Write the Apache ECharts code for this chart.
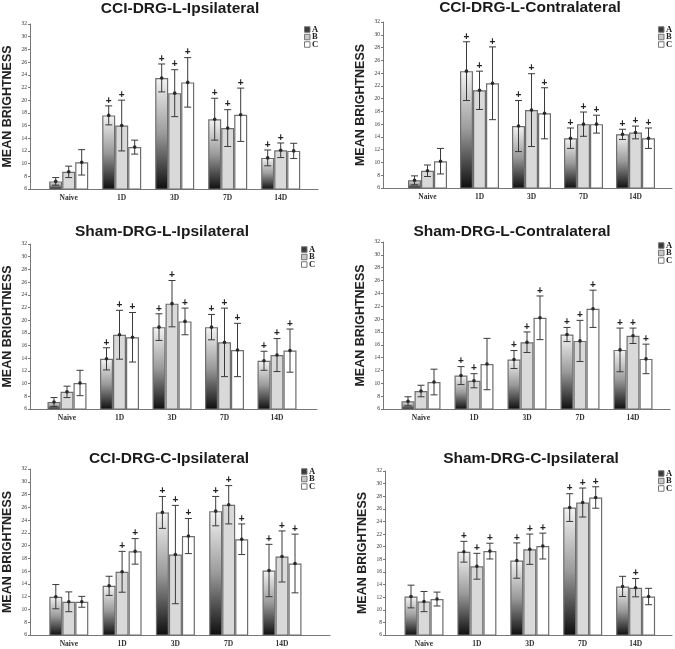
<!DOCTYPE html>
<html><head><meta charset="utf-8">
<script src="https://cdn.jsdelivr.net/npm/echarts@6/dist/echarts.min.js"></script>
<style>html,body{margin:0;padding:0;background:#fff}#c{width:675px;height:649px}</style>
</head><body><div id="c"></div>
<script>
const categories = ['Naive', '1D', '3D', '7D', '14D'];
const seriesNames = ['A', 'B', 'C'];
const yMin = 6, yMax = 32, yStep = 2;
const panelTitles = ['CCI-DRG-L-Ipsilateral', 'CCI-DRG-L-Contralateral', 'Sham-DRG-L-Ipsilateral',
  'Sham-DRG-L-Contralateral', 'CCI-DRG-C-Ipsilateral', 'Sham-DRG-C-Ipsilateral'];
const yName = 'MEAN BRIGHTNESS';

// means / errors / significance (+) per panel, rows = A, B, C
const meanCciLIpsi = [[7.2, 17.6, 23.5, 17.0, 10.9], [8.7, 16.0, 21.1, 15.6, 12.1], [10.2, 12.6, 22.8, 17.7, 12.0]];
const errCciLIpsi = [[0.6, 1.5, 2.2, 3.3, 1.25], [0.9, 4.0, 3.7, 2.9, 1.15], [2.0, 1.1, 3.9, 4.2, 1.2]];
const plusCciLIpsi = [[0, 1, 1, 1, 1], [0, 1, 1, 1, 1], [0, 0, 1, 1, 0]];

const meanCciLContra = [[7.2, 24.3, 15.7, 13.8, 14.4], [8.7, 21.3, 18.2, 16.0, 14.7], [10.2, 22.4, 17.7, 16.0, 13.8]];
const errCciLContra = [[0.7, 4.6, 4.0, 1.6, 0.8], [0.9, 3.0, 5.7, 1.9, 1.0], [2.0, 5.7, 4.0, 1.4, 1.6]];
const plusCciLContra = [[0, 1, 1, 1, 1], [0, 1, 1, 1, 1], [0, 1, 1, 1, 1]];

const meanShamLIpsi = [[7.1, 13.9, 18.9, 18.9, 13.6], [8.7, 17.7, 22.6, 16.5, 14.5], [10.1, 17.3, 19.8, 15.3, 15.2]];
const errShamLIpsi = [[0.7, 1.75, 2.1, 2.0, 1.5], [0.9, 3.85, 3.65, 5.4, 2.6], [2.0, 3.9, 2.1, 4.2, 3.4]];
const plusShamLIpsi = [[0, 1, 1, 1, 1], [0, 1, 1, 1, 1], [0, 1, 1, 1, 1]];

const meanShamLContra = [[7.2, 11.2, 13.7, 17.6, 15.2], [8.8, 10.4, 16.4, 16.6, 17.4], [10.2, 13.0, 20.2, 21.6, 13.8]];
const errShamLContra = [[0.7, 1.4, 1.4, 1.1, 3.4], [0.9, 1.1, 1.6, 3.2, 1.2], [2.0, 4.0, 3.4, 2.9, 2.3]];
const plusShamLContra = [[0, 1, 1, 1, 1], [0, 1, 1, 1, 1], [0, 0, 1, 1, 1]];

const meanCciCIpsi = [[12.0, 13.7, 25.2, 25.4, 16.1], [11.2, 15.9, 18.6, 26.4, 18.3], [11.2, 19.1, 21.5, 21.0, 17.2]];
const errCciCIpsi = [[1.9, 1.5, 2.5, 2.3, 4.1], [1.55, 3.2, 7.7, 3.0, 4.0], [0.85, 2.0, 2.75, 2.4, 4.6]];
const plusCciCIpsi = [[0, 0, 1, 1, 1], [0, 1, 1, 1, 1], [0, 1, 1, 1, 1]];

const meanShamCIpsi = [[12.1, 19.2, 17.8, 26.2, 13.7], [11.3, 16.9, 19.6, 27.0, 13.5], [11.7, 19.3, 20.1, 27.8, 12.1]];
const errShamCIpsi = [[1.8, 1.65, 2.8, 2.2, 1.6], [1.6, 2.05, 2.4, 2.3, 1.45], [1.1, 1.25, 2.05, 1.7, 1.3]];
const plusShamCIpsi = [[0, 1, 1, 1, 0], [0, 1, 1, 1, 1], [0, 1, 1, 1, 0]];

const panelMeans = [meanCciLIpsi, meanCciLContra, meanShamLIpsi, meanShamLContra, meanCciCIpsi, meanShamCIpsi];
const panelErrs = [errCciLIpsi, errCciLContra, errShamLIpsi, errShamLContra, errCciCIpsi, errShamCIpsi];
const panelPlus = [plusCciLIpsi, plusCciLContra, plusShamLIpsi, plusShamLContra, plusCciCIpsi, plusShamCIpsi];

// layout (pixels)
const layouts = [
  {ax: 30, top: 24, bottom: 189, right: 318, c0: 68.7, sp: 53, lx: 304, ly: 25, tx: 180, ty: 9},
  {ax: 383, top: 22, bottom: 188, right: 672, c0: 427.5, sp: 52, lx: 658, ly: 25, tx: 530, ty: 8},
  {ax: 28, top: 244, bottom: 409, right: 317, c0: 67, sp: 52.5, lx: 301, ly: 245, tx: 162, ty: 232},
  {ax: 383, top: 242, bottom: 409, right: 670, c0: 421, sp: 53, lx: 658, ly: 241, tx: 512, ty: 232},
  {ax: 28, top: 469, bottom: 635, right: 330, c0: 68.8, sp: 53.3, lx: 301, ly: 467, tx: 169, ty: 459},
  {ax: 385, top: 471, bottom: 635, right: 672, c0: 424, sp: 52.9, lx: 658, ly: 469, tx: 531, ty: 459}
];
const BW = 13;
const SERIF = '"Liberation Serif", "DejaVu Serif", serif';
const SANS = '"Liberation Sans", Arial, sans-serif';
const barColors = [
  {type: 'linear', x: 0, y: 0, x2: 0, y2: 1, colorStops: [{offset: 0, color: '#f4f4f4'}, {offset: 0.5, color: '#9a9a9a'}, {offset: 1, color: '#0d0d0d'}]},
  '#d9d9d9', '#ffffff'
];
const legendColors = ['#3a3a3a', '#c8c8c8', '#ffffff'];

const grid = [], xAxis = [], yAxis = [], series = [], legend = [], graphic = [];
layouts.forEach((L, p) => {
  const h = L.bottom - L.top;
  grid.push({left: L.ax, top: L.top, width: L.right - L.ax, height: h});
  grid.push({left: L.c0 - L.sp / 2, top: L.top, width: L.sp * 5, height: h});
  const gA = 2 * p, gB = 2 * p + 1;
  xAxis.push({gridIndex: gA, type: 'value', min: 0, max: 1, position: 'bottom',
    axisLine: {show: true, lineStyle: {color: '#777', width: 1}}, axisTick: {show: false},
    axisLabel: {show: false}, splitLine: {show: false}});
  xAxis.push({gridIndex: gB, type: 'category', data: categories, position: 'bottom',
    axisLine: {show: false}, axisTick: {show: false}, splitLine: {show: false},
    axisLabel: {fontFamily: SERIF, fontWeight: 'bold', fontSize: 7.5, color: '#333', margin: 5}});
  yAxis.push({gridIndex: gA, type: 'value', min: yMin, max: yMax, interval: yStep,
    name: yName, nameLocation: 'middle', nameGap: 16, nameRotate: 90,
    nameTextStyle: {fontFamily: SANS, fontWeight: 'bold', fontSize: 12.5, color: '#222'},
    axisLine: {show: true, lineStyle: {color: '#777', width: 1}},
    axisTick: {show: true, length: 2, lineStyle: {color: '#777'}},
    axisLabel: {fontFamily: SERIF, fontSize: 5.5, color: '#333', margin: 3},
    splitLine: {show: false}});
  yAxis.push({gridIndex: gB, type: 'value', min: yMin, max: yMax, interval: yStep, show: false});

  seriesNames.forEach((name, s) => {
    series.push({type: 'bar', name: name, xAxisIndex: gB, yAxisIndex: gB,
      data: panelMeans[p][s], barWidth: BW, barGap: '0%',
      itemStyle: {color: barColors[s], borderColor: '#6e6e6e', borderWidth: 1.2},
      emphasis: {disabled: true}, animation: false});
    const errData = panelMeans[p][s].map((m, i) => [i, m, panelErrs[p][s][i], panelPlus[p][s][i]]);
    series.push({type: 'custom', name: 'err' + name, xAxisIndex: gB, yAxisIndex: gB,
      data: errData, z: 5, animation: false, silent: true,
      encode: {x: 0, y: 1},
      renderItem: (params, api) => {
        const idx = api.value(0), m = api.value(1), e = api.value(2), pl = api.value(3);
        const c = api.coord([idx, m]);
        const cx = c[0] + (s - 1) * BW;
        const yt = api.coord([idx, m + e])[1];
        const yb = api.coord([idx, Math.max(m - e, yMin)])[1];
        const st = {stroke: '#3a3a3a', lineWidth: 1};
        const children = [
          {type: 'line', shape: {x1: cx, y1: yt, x2: cx, y2: yb}, style: st},
          {type: 'line', shape: {x1: cx - 3.5, y1: yt, x2: cx + 3.5, y2: yt}, style: st},
          {type: 'line', shape: {x1: cx - 3.5, y1: yb, x2: cx + 3.5, y2: yb}, style: st},
          {type: 'circle', shape: {cx: cx, cy: c[1], r: 1.8}, style: {fill: '#2a2a2a'}}
        ];
        if (pl) {
          children.push({type: 'text', x: cx, y: yt - 5,
            style: {text: '+', fill: '#222', font: 'bold 10px ' + SANS, align: 'center', verticalAlign: 'middle'}});
        }
        return {type: 'group', children: children};
      }});
  });

  legend.push({left: L.lx, top: L.ly, orient: 'vertical', itemWidth: 5.5, itemHeight: 5.5, itemGap: -1.5,
    padding: 0, icon: 'rect', selectedMode: false,
    textStyle: {fontFamily: SERIF, fontWeight: 'bold', fontSize: 8.5, color: '#222', padding: [0, 0, 0, -3]},
    data: seriesNames.map((n, s) => ({name: n, itemStyle: {color: legendColors[s], borderColor: '#777', borderWidth: 1}}))});

  graphic.push({type: 'text', x: L.tx, y: L.ty,
    style: {text: panelTitles[p], font: 'bold 15.5px ' + SANS, fill: '#1a1a1a', textAlign: 'center', textVerticalAlign: 'middle'}});
});

const chart = echarts.init(document.getElementById('c'), null, {renderer: 'canvas'});
chart.setOption({backgroundColor: '#fff', animation: false, grid, xAxis, yAxis, series, legend, graphic});
</script></body></html>
